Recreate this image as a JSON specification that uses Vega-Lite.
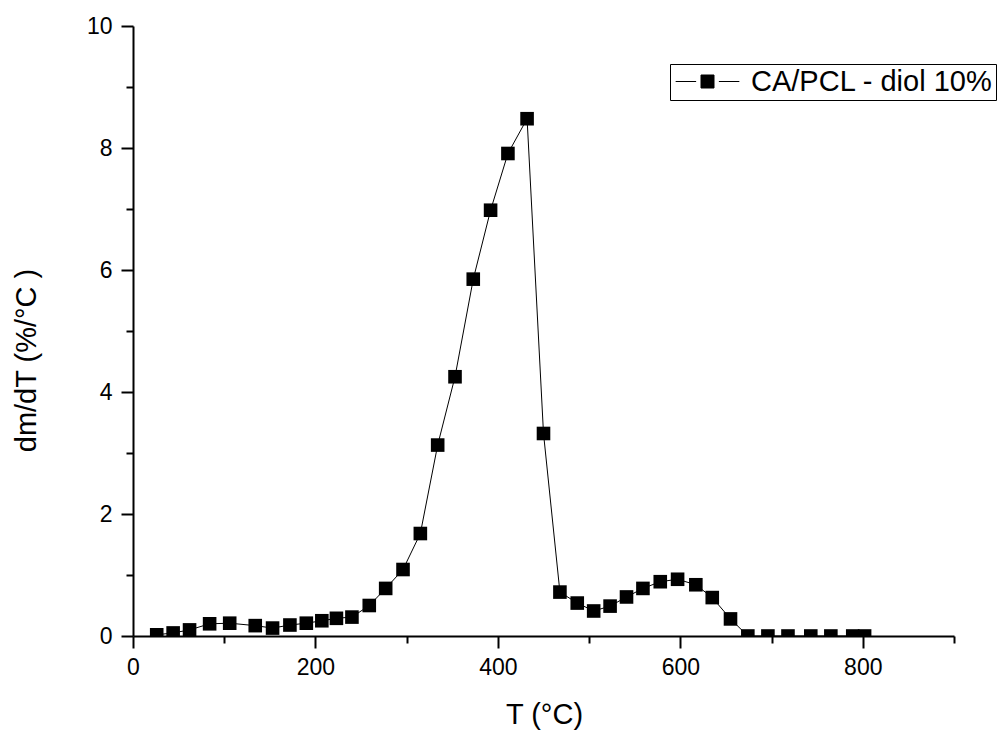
{
  "$schema": "https://vega.github.io/schema/vega-lite/v6.json",
  "width": 821,
  "height": 610,
  "autosize": {"type": "none"},
  "padding": {"left": 133, "top": 26, "right": 49, "bottom": 97},
  "background": "white",
  "config": {
    "view": {"stroke": null},
    "font": "Liberation Sans",
    "axis": {
      "grid": false,
      "domainColor": "black",
      "tickColor": "black",
      "labelColor": "black",
      "titleColor": "black",
      "labelFont": "Liberation Sans",
      "titleFont": "Liberation Sans",
      "labelFontSize": 23,
      "titleFontSize": 29,
      "titleFontWeight": "normal",
      "domainWidth": 2,
      "tickWidth": 2,
      "labelFlush": false,
      "labelOverlap": false
    }
  },
  "data": {
    "values": [
      {"T": 26, "v": 0.02, "series": "CA/PCL - diol 10%"},
      {"T": 44, "v": 0.05, "series": "CA/PCL - diol 10%"},
      {"T": 62, "v": 0.10, "series": "CA/PCL - diol 10%"},
      {"T": 84, "v": 0.20, "series": "CA/PCL - diol 10%"},
      {"T": 106, "v": 0.21, "series": "CA/PCL - diol 10%"},
      {"T": 134, "v": 0.17, "series": "CA/PCL - diol 10%"},
      {"T": 153, "v": 0.13, "series": "CA/PCL - diol 10%"},
      {"T": 172, "v": 0.18, "series": "CA/PCL - diol 10%"},
      {"T": 190, "v": 0.21, "series": "CA/PCL - diol 10%"},
      {"T": 207, "v": 0.25, "series": "CA/PCL - diol 10%"},
      {"T": 223, "v": 0.29, "series": "CA/PCL - diol 10%"},
      {"T": 240, "v": 0.31, "series": "CA/PCL - diol 10%"},
      {"T": 259, "v": 0.50, "series": "CA/PCL - diol 10%"},
      {"T": 277, "v": 0.78, "series": "CA/PCL - diol 10%"},
      {"T": 296, "v": 1.09, "series": "CA/PCL - diol 10%"},
      {"T": 315, "v": 1.68, "series": "CA/PCL - diol 10%"},
      {"T": 334, "v": 3.13, "series": "CA/PCL - diol 10%"},
      {"T": 353, "v": 4.25, "series": "CA/PCL - diol 10%"},
      {"T": 373, "v": 5.85, "series": "CA/PCL - diol 10%"},
      {"T": 392, "v": 6.98, "series": "CA/PCL - diol 10%"},
      {"T": 411, "v": 7.91, "series": "CA/PCL - diol 10%"},
      {"T": 432, "v": 8.48, "series": "CA/PCL - diol 10%"},
      {"T": 450, "v": 3.32, "series": "CA/PCL - diol 10%"},
      {"T": 468, "v": 0.72, "series": "CA/PCL - diol 10%"},
      {"T": 487, "v": 0.54, "series": "CA/PCL - diol 10%"},
      {"T": 505, "v": 0.41, "series": "CA/PCL - diol 10%"},
      {"T": 523, "v": 0.49, "series": "CA/PCL - diol 10%"},
      {"T": 541, "v": 0.64, "series": "CA/PCL - diol 10%"},
      {"T": 559, "v": 0.78, "series": "CA/PCL - diol 10%"},
      {"T": 578, "v": 0.89, "series": "CA/PCL - diol 10%"},
      {"T": 597, "v": 0.93, "series": "CA/PCL - diol 10%"},
      {"T": 617, "v": 0.84, "series": "CA/PCL - diol 10%"},
      {"T": 635, "v": 0.63, "series": "CA/PCL - diol 10%"},
      {"T": 655, "v": 0.28, "series": "CA/PCL - diol 10%"},
      {"T": 674, "v": 0.0, "series": "CA/PCL - diol 10%"},
      {"T": 696, "v": 0.0, "series": "CA/PCL - diol 10%"},
      {"T": 718, "v": 0.0, "series": "CA/PCL - diol 10%"},
      {"T": 743, "v": 0.0, "series": "CA/PCL - diol 10%"},
      {"T": 765, "v": 0.0, "series": "CA/PCL - diol 10%"},
      {"T": 789, "v": 0.0, "series": "CA/PCL - diol 10%"},
      {"T": 802, "v": 0.0, "series": "CA/PCL - diol 10%"}
    ]
  },
  "layer": [
    {
      "mark": {"type": "line", "strokeWidth": 1, "clip": true},
      "encoding": {
        "x": {
          "field": "T", "type": "quantitative",
          "scale": {"domain": [0, 900], "nice": false, "zero": false},
          "axis": {
            "orient": "bottom",
            "values": [0, 200, 400, 600, 800],
            "tickSize": 12,
            "labelPadding": 8,
            "title": "T (°C)",
            "titleX": 411,
            "titleY": 87,
            "titleBaseline": "alphabetic",
            "titleAlign": "center"
          }
        },
        "y": {
          "field": "v", "type": "quantitative",
          "scale": {"domain": [0, 10], "nice": false},
          "axis": {
            "orient": "left",
            "values": [0, 2, 4, 6, 8, 10],
            "tickSize": 12,
            "labelPadding": 9,
            "title": "dm/dT (%/°C )",
            "titleX": -98,
            "titleY": 334,
            "titleAngle": -90,
            "titleBaseline": "alphabetic",
            "titleAlign": "center"
          }
        },
        "color": {
          "field": "series", "type": "nominal",
          "scale": {"range": ["black"]},
          "legend": {
            "orient": "none",
            "legendX": 537,
            "legendY": 38,
            "title": null,
            "strokeColor": "black",
            "padding": 3,
            "labelFont": "Liberation Sans",
            "labelFontSize": 29,
            "labelColor": "black",
            "labelLimit": 500,
            "symbolType": "M-4.9,0H-1.75M1.75,0H4.9M-1,-1H1V1H-1Z",
            "symbolSize": 169,
            "symbolFillColor": "black",
            "symbolStrokeColor": "black",
            "symbolStrokeWidth": 1,
            "symbolOpacity": 1,
            "symbolOffset": 20,
            "labelOffset": 29
          }
        }
      }
    },
    {
      "mark": {"type": "point", "shape": "square", "filled": true, "size": 185, "opacity": 1, "clip": true},
      "encoding": {
        "x": {
          "field": "T", "type": "quantitative",
          "axis": {
            "orient": "bottom",
            "values": [100, 300, 500, 700, 900],
            "tickSize": 7,
            "labels": false,
            "domain": false,
            "title": null
          }
        },
        "y": {
          "field": "v", "type": "quantitative",
          "axis": {
            "orient": "left",
            "values": [1, 3, 5, 7, 9],
            "tickSize": 7,
            "labels": false,
            "domain": false,
            "title": null
          }
        },
        "color": {"field": "series", "type": "nominal"}
      }
    }
  ],
  "resolve": {"axis": {"x": "independent", "y": "independent"}}
}
